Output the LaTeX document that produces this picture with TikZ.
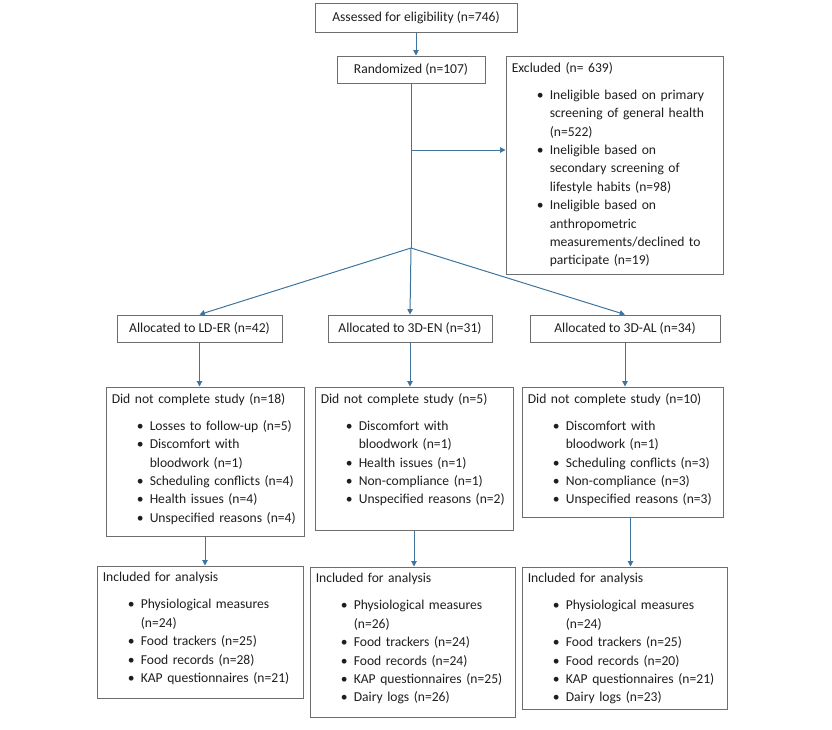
\documentclass[tikz,border=0pt]{standalone}
\usepackage{fontspec}
\setmainfont{Carlito}
\usepackage{enumitem}
\usetikzlibrary{arrows.meta,fit}
\definecolor{arrowblue}{RGB}{62,117,160}
\definecolor{boxgray}{RGB}{110,110,110}
\definecolor{textgray}{RGB}{30,30,30}
\setlist[itemize]{label=\textbullet,leftmargin=28.5pt,labelsep=4.5pt,itemsep=0pt,parsep=0pt,topsep=6.45pt,partopsep=0pt}
\begin{document}
\begin{tikzpicture}[x=0.75pt,y=-0.75pt,
  box/.style={draw=boxgray,line width=0.75pt,inner sep=0pt},
  txt/.style={anchor=north west,inner xsep=4.5pt,inner ysep=5pt,align=left,text width=200pt,font=\fontsize{10.2}{13.8}\selectfont,text=textgray},
  one/.style={box,font=\fontsize{10.2}{13.8}\selectfont,text=textgray},
  arr/.style={draw=arrowblue,line width=0.75pt,-{Triangle[length=4pt,width=4pt]}}]
\useasboundingbox (0,0) rectangle (832,729);
% top of the chart
\node[one,minimum width=151.5pt,minimum height=21.75pt] (as) at (416,17.5) {Assessed for eligibility (n=746)};
\node[one,minimum width=111pt,minimum height=20.25pt] (ra) at (411,69.5) {Randomized (n=107)};
\node[box,fit={(506,56) (723,274)}] (ex) {};
\node[txt] (ext) at (ex.north west) {Excluded (n= 639)
\begin{itemize}
\item Ineligible based on primary\\ screening of general health\\ (n=522)
\item Ineligible based on\\ secondary screening of\\ lifestyle habits (n=98)
\item Ineligible based on\\ anthropometric\\ measurements/declined to\\ participate (n=19)
\end{itemize}};
\draw[arr] (as.south) -- (as.south |- ra.north);
\coordinate (sp) at (411,248);
\coordinate (tap) at (411,150);
\draw[draw=arrowblue,line width=0.75pt] (ra.south) -- (sp);
\draw[arr] (tap) -- (tap -| ex.west);
% allocation
\node[one,minimum width=123.75pt,minimum height=20.25pt] (al1) at (199.5,328.5) {Allocated to LD-ER (n=42)};
\node[one,minimum width=123pt,minimum height=20.25pt] (al2) at (410,328.5) {Allocated to 3D-EN (n=31)};
\node[one,minimum width=142.5pt,minimum height=20.25pt] (al3) at (625,328.5) {Allocated to 3D-AL (n=34)};
\draw[arr] (sp) -- (al1.north);
\draw[arr] (sp) -- (al2.north);
\draw[arr] (sp) -- (al3.north);
% did not complete
\node[box,fit={(106,387) (304,536)}] (dn1) {};
\node[txt] (dn1t) at (dn1.north west) {Did not complete study (n=18)
\begin{itemize}
\item Losses to follow-up (n=5)
\item Discomfort with\\ bloodwork (n=1)
\item Scheduling conflicts (n=4)
\item Health issues (n=4)
\item Unspecified reasons (n=4)
\end{itemize}};
\node[box,fit={(315,387) (513,530)}] (dn2) {};
\node[txt] (dn2t) at (dn2.north west) {Did not complete study (n=5)
\begin{itemize}
\item Discomfort with\\ bloodwork (n=1)
\item Health issues (n=1)
\item Non-compliance (n=1)
\item Unspecified reasons (n=2)
\end{itemize}};
\node[box,fit={(522,387) (723,517)}] (dn3) {};
\node[txt] (dn3t) at (dn3.north west) {Did not complete study (n=10)
\begin{itemize}
\item Discomfort with\\ bloodwork (n=1)
\item Scheduling conflicts (n=3)
\item Non-compliance (n=3)
\item Unspecified reasons (n=3)
\end{itemize}};
\draw[arr] (al1.south) -- (al1.south |- dn1.north);
\draw[arr] (al2.south) -- (al2.south |- dn2.north);
\draw[arr] (al3.south) -- (al3.south |- dn3.north);
% included for analysis
\node[box,fit={(97,566) (303,698)}] (in1) {};
\node[txt] (in1t) at (in1.north west) {Included for analysis
\begin{itemize}
\item Physiological measures\\ (n=24)
\item Food trackers (n=25)
\item Food records (n=28)
\item KAP questionnaires (n=21)
\end{itemize}};
\node[box,fit={(310,567) (515,717)}] (in2) {};
\node[txt] (in2t) at (in2.north west) {Included for analysis
\begin{itemize}
\item Physiological measures\\ (n=26)
\item Food trackers (n=24)
\item Food records (n=24)
\item KAP questionnaires (n=25)
\item Dairy logs (n=26)
\end{itemize}};
\node[box,fit={(522,567) (727,709)}] (in3) {};
\node[txt] (in3t) at (in3.north west) {Included for analysis
\begin{itemize}
\item Physiological measures\\ (n=24)
\item Food trackers (n=25)
\item Food records (n=20)
\item KAP questionnaires (n=21)
\item Dairy logs (n=23)
\end{itemize}};
\draw[arr] (dn1.south) -- (dn1.south |- in1.north);
\draw[arr] (dn2.south) -- (dn2.south |- in2.north);
\draw[arr] ([xshift=6]dn3.south) -- ([xshift=6]dn3.south |- in3.north);
\end{tikzpicture}
\end{document}
